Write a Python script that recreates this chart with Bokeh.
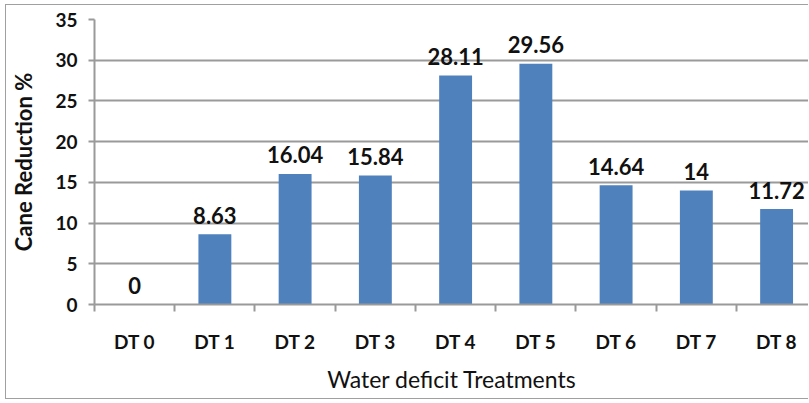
from bokeh.plotting import figure
from bokeh.models import ColumnDataSource, FixedTicker, Range1d
from bokeh.core.properties import value
from bokeh.embed import file_html
from bokeh.resources import INLINE

categories = ["DT 0", "DT 1", "DT 2", "DT 3", "DT 4", "DT 5", "DT 6", "DT 7", "DT 8"]
reduction = [0, 8.63, 16.04, 15.84, 28.11, 29.56, 14.64, 14, 11.72]
value_labels = ["0", "8.63", "16.04", "15.84", "28.11", "29.56", "14.64", "14", "11.72"]
y_ticks = [0, 5, 10, 15, 20, 25, 30, 35]

xs = [i + 0.5 for i in range(len(categories))]
src = ColumnDataSource(dict(x=xs, top=reduction, lab=value_labels, cat=categories))

FONT = "Lato"
GRID = "#9a9a9a"
EDGE = "1px solid #a0a0a0"

p = figure(width=803, height=395, output_backend="svg", toolbar_location=None,
           x_range=Range1d(0, 8.91), y_range=Range1d(0, 35),
           min_border_left=88, min_border_top=14, min_border_bottom=96, min_border_right=0,
           styles={"margin-left": "5px", "margin-top": "4px",
                   "border-left": EDGE, "border-top": EDGE, "border-bottom": EDGE})
p.outline_line_color = None
p.background_fill_color = "white"
p.border_fill_color = "white"

p.vbar(x="x", top="top", width=0.41, bottom=0, source=src, fill_color="#4F81BD", line_color=None)
p.text(x="x", y="top", text="lab", source=src, text_align="center", text_baseline="alphabetic",
       y_offset=-19, text_font=value(FONT), text_font_size="22px", text_font_style="bold",
       text_color="#111111")

# x axis
p.xaxis.ticker = FixedTicker(ticks=xs, minor_ticks=list(range(len(categories) + 1)))
p.xaxis.major_label_overrides = {x: c for x, c in zip(xs, categories)}
p.xaxis.major_tick_out = 0
p.xaxis.major_tick_in = 0
p.xaxis.minor_tick_out = 7
p.xaxis.minor_tick_in = 0
p.xaxis.minor_tick_line_color = GRID
p.xaxis.minor_tick_line_width = 2
p.xaxis.axis_line_color = GRID
p.xaxis.axis_line_width = 2
p.xaxis.major_label_standoff = 18
p.xaxis.major_label_text_font = FONT
p.xaxis.major_label_text_font_size = "19px"
p.xaxis.major_label_text_font_style = "bold"
p.xaxis.major_label_text_color = "#111111"
p.xaxis.axis_label = "Water deficit Treatments"
p.xaxis.axis_label_text_font = FONT
p.xaxis.axis_label_text_font_size = "23px"
p.xaxis.axis_label_text_font_style = "normal"
p.xaxis.axis_label_text_color = "#111111"
p.xaxis.axis_label_standoff = 9

# y axis
p.yaxis.ticker = FixedTicker(ticks=y_ticks)
p.yaxis.minor_tick_line_color = None
p.yaxis.major_tick_out = 6
p.yaxis.major_tick_in = 0
p.yaxis.major_tick_line_color = GRID
p.yaxis.major_tick_line_width = 2
p.yaxis.axis_line_color = GRID
p.yaxis.axis_line_width = 2
p.yaxis.major_label_standoff = 11
p.yaxis.major_label_text_font = FONT
p.yaxis.major_label_text_font_size = "19px"
p.yaxis.major_label_text_font_style = "bold"
p.yaxis.major_label_text_color = "#111111"
p.yaxis.axis_label = "Cane Reduction %"
p.yaxis.axis_label_text_font = FONT
p.yaxis.axis_label_text_font_size = "22px"
p.yaxis.axis_label_text_font_style = "bold"
p.yaxis.axis_label_text_color = "#111111"
p.yaxis.axis_label_standoff = 15

p.xgrid.grid_line_color = None
p.ygrid.grid_line_color = GRID
p.ygrid.grid_line_width = 2

open("out.html", "w").write(file_html(p, INLINE))
